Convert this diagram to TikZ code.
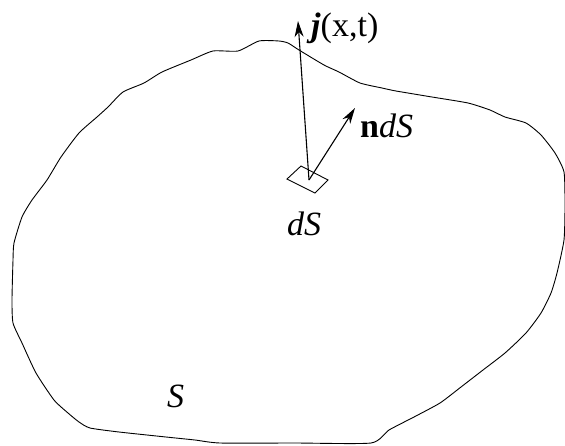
\documentclass[tikz,border=0pt]{standalone}
\usepackage{fontspec}
\setmainfont{Liberation Serif}
\usetikzlibrary{arrows.meta,positioning}

\begin{document}
\begin{tikzpicture}[x=1pt, y=-1pt,
    vec/.style={line width=1.1pt, -{Stealth[length=16pt, width=9pt, inset=5pt]}},
    label/.style={font=\fontsize{34}{38}\selectfont, inner sep=0pt, anchor=base west}]

\useasboundingbox (0,0) rectangle (565,445);

% Surface boundary
\draw[line width=0.9pt, line join=round] plot[smooth cycle, tension=0.35] coordinates {
  (259,41) (279,41) (288,43) (299,50) (324,65) (339,72) (360,83) (382,88)
  (396,91) (432,97) (468,103) (490,110) (505,117) (526,123) (541,135)
  (555,153) (564,172) (565,205) (564,240) (557,273) (551,293) (541,313)
  (526,333) (505,353) (483,370) (461,387) (440,403) (414,417) (389,430)
  (371,443) (295,443) (220,443) (195,440) (166,437) (119,432) (90,428)
  (79,422) (68,413) (54,400) (36,373) (22,343) (13,323) (12,300) (13,260)
  (14,243) (22,217) (32,200) (47,180) (61,157) (79,133) (97,117) (108,107)
  (123,92) (144,83) (162,72) (191,60) (213,51) (238,51)};

% Surface element
\coordinate (c1) at (287,179);
\coordinate (c2) at (301,166);
\coordinate (c3) at (328,180);
\coordinate (c4) at (315,193);
\draw[line width=0.9pt] (c1) -- (c2) -- (c3) -- (c4) -- cycle;
\coordinate (base) at (309,180);

% Vectors
\coordinate (jtip) at (298,21);
\coordinate (ntip) at (355,108);
\draw[vec] (base) -- (jtip);
\draw[vec] (base) -- (ntip);

% Labels
\node[label] (Lj) at (311,36) {\textbf{\textit{j}}(x,t)};
\node[label] (Ln) at (360,137) {\textbf{n}\textit{dS}};
\node[label] (LdS) at (287,235) {\textit{dS}};
\node[label] (LS) at (167,407) {\textit{S}};

\end{tikzpicture}
\end{document}
